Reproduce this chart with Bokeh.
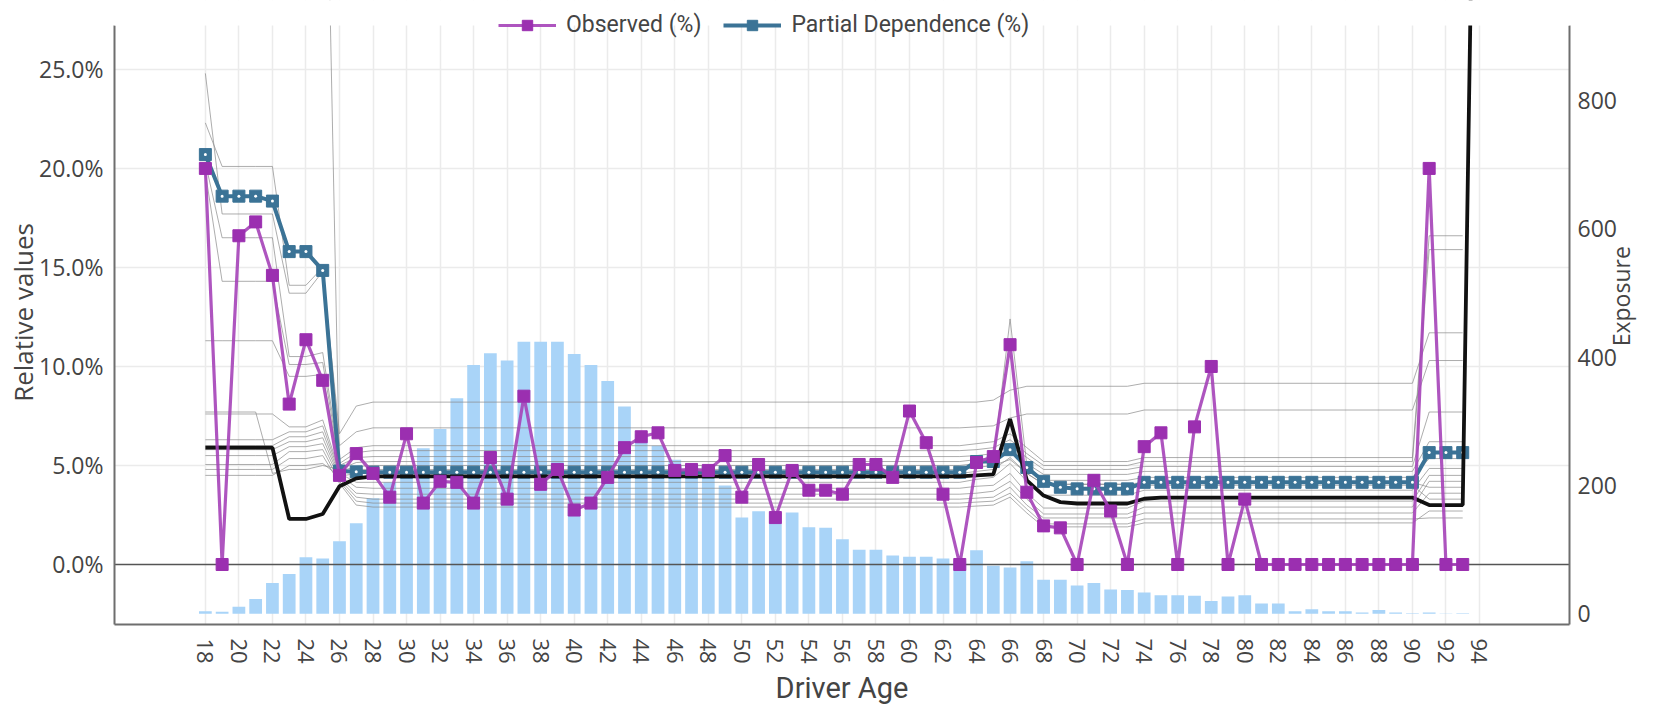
import math
from bokeh.plotting import figure
from bokeh.models import (Range1d, LinearAxis, FixedTicker, PrintfTickFormatter,
                          Legend, LegendItem, BoxAnnotation)
from bokeh.embed import file_html
from bokeh.resources import INLINE

# ---------------- data ----------------
ages = list(range(18, 94))
black_ages = list(range(18, 95))
x_ticks = list(range(18, 95, 2))
y_ticks = [0, 5, 10, 15, 20, 25]
grid_y_ticks = [5, 10, 15, 20, 25]
exposure_ticks = [0, 200, 400, 600, 800]

exposure = [4, 3, 11, 23, 48, 62, 88, 86, 113, 141,
            180, 205, 230, 258, 288, 336, 388, 406, 395, 424,
            424, 424, 405, 388, 363, 323, 280, 262, 240, 222,
            210, 200, 150, 160, 157, 158, 135, 134, 116, 100,
            100, 91, 89, 89, 86, 82, 99, 75, 72, 82,
            53, 53, 44, 48, 38, 37, 33, 29, 29, 28,
            20, 27, 29, 16, 16, 4, 7, 4, 4, 2,
            6, 2, 1, 2, 0.5, 1]

observed = [20.0, 0.0, 16.6, 17.3, 14.6, 8.1, 11.35, 9.3, 4.5, 5.6,
            4.6, 3.4, 6.6, 3.1, 4.2, 4.15, 3.1, 5.4, 3.3, 8.5,
            4.05, 4.8, 2.75, 3.1, 4.4, 5.9, 6.45, 6.65, 4.75, 4.8,
            4.75, 5.5, 3.4, 5.05, 2.37, 4.75, 3.75, 3.75, 3.55, 5.05,
            5.05, 4.4, 7.75, 6.15, 3.55, 0.0, 5.15, 5.45, 11.1, 3.65,
            1.95, 1.85, 0.0, 4.25, 2.7, 0.0, 5.95, 6.65, 0.0, 6.95,
            10.0, 0.0, 3.3, 0.0, 0.0, 0.0, 0.0, 0.0, 0.0, 0.0,
            0.0, 0.0, 0.0, 20.0, 0.0, 0.0]

partial_dependence = [20.7, 18.6, 18.6, 18.6, 18.35, 15.8, 15.8, 14.85, 4.72, 4.68,
                      4.66, 4.66, 4.66, 4.66, 4.66, 4.66, 4.66, 4.66, 4.66, 4.66,
                      4.66, 4.66, 4.66, 4.66, 4.66, 4.66, 4.66, 4.66, 4.66, 4.66,
                      4.66, 4.66, 4.66, 4.66, 4.66, 4.66, 4.66, 4.66, 4.66, 4.66,
                      4.66, 4.66, 4.66, 4.66, 4.66, 4.66, 5.2, 5.2, 5.8, 4.9,
                      4.2, 3.9, 3.82, 3.82, 3.82, 3.82, 4.15, 4.15, 4.15, 4.15,
                      4.15, 4.15, 4.15, 4.15, 4.15, 4.15, 4.15, 4.15, 4.15, 4.15,
                      4.15, 4.15, 4.15, 5.65, 5.65, 5.65]

black_line = [5.9, 5.9, 5.9, 5.9, 5.9, 2.3, 2.3, 2.55, 3.95, 4.35,
              4.45, 4.45, 4.45, 4.45, 4.45, 4.45, 4.45, 4.45, 4.45, 4.45,
              4.45, 4.45, 4.45, 4.45, 4.45, 4.45, 4.45, 4.45, 4.45, 4.45,
              4.45, 4.45, 4.45, 4.45, 4.45, 4.45, 4.45, 4.45, 4.45, 4.45,
              4.45, 4.45, 4.45, 4.45, 4.45, 4.45, 4.5, 4.55, 7.35, 4.25,
              3.48, 3.15, 3.08, 3.08, 3.08, 3.08, 3.32, 3.38, 3.38, 3.38,
              3.38, 3.38, 3.38, 3.38, 3.38, 3.38, 3.38, 3.38, 3.38, 3.38,
              3.38, 3.38, 3.38, 3.0, 3.0, 3.0, 57.0]

# individual (ICE) curves, read at the ages where they change
ice_ages = [18, 19, 21, 22, 23, 24, 25, 26, 27, 28, 63, 64, 65, 66, 67, 68, 73, 74, 90, 91, 93]
ice_00 = [46.5, 46.5, 46.5, 46.5, 46.5, 46.5, 46.5, 4.7, 4.8, 4.8, 4.8, 4.9, 5.0, 5.3, 4.6, 4.05, 4.05, 4.15, 4.15, 3.9, 3.9]
ice_01 = [24.8, 17.7, 17.7, 17.7, 13.7, 13.7, 14.8, 6.6, 8.0, 8.2, 8.2, 8.2, 8.3, 8.8, 9.0, 9.0, 9.0, 9.15, 9.15, 11.7, 11.7]
ice_02 = [22.3, 20.1, 20.1, 20.1, 14.1, 14.1, 15.0, 6.0, 6.7, 6.9, 6.9, 6.95, 7.0, 7.4, 7.6, 7.6, 7.6, 7.8, 7.8, 10.3, 10.3]
ice_03 = [20.3, 16.5, 16.5, 16.5, 10.5, 10.5, 10.7, 5.3, 5.9, 6.0, 6.0, 6.1, 6.2, 6.6, 5.9, 5.2, 5.2, 5.4, 5.4, 16.6, 16.6]
ice_04 = [19.8, 14.3, 14.3, 14.3, 10.1, 10.1, 10.2, 5.1, 5.65, 5.75, 5.75, 5.8, 5.9, 6.3, 5.6, 5.0, 5.0, 5.2, 5.2, 15.9, 15.9]
ice_05 = [11.3, 11.3, 11.3, 11.3, 9.5, 9.5, 9.6, 5.0, 5.4, 5.45, 5.45, 5.5, 5.6, 6.0, 5.4, 4.8, 4.8, 4.95, 4.95, 7.7, 7.7]
ice_06 = [7.7, 7.7, 7.7, 4.6, 4.8, 4.8, 5.0, 4.8, 5.15, 5.2, 5.2, 5.3, 5.4, 5.8, 5.1, 4.55, 4.55, 4.7, 4.7, 6.2, 6.2]
ice_07 = [7.6, 7.6, 7.6, 7.6, 6.95, 6.95, 7.3, 4.7, 4.95, 5.0, 5.0, 5.1, 5.2, 12.4, 5.0, 4.25, 4.25, 4.4, 4.4, 5.35, 5.35]
ice_08 = [6.3, 6.3, 6.3, 6.3, 6.7, 6.7, 7.0, 4.6, 4.15, 4.15, 4.15, 4.3, 4.4, 5.1, 4.2, 3.5, 3.5, 3.75, 3.75, 4.85, 4.85]
ice_09 = [6.0, 6.0, 6.0, 6.0, 6.45, 6.45, 6.7, 4.5, 3.9, 3.85, 3.85, 3.95, 4.0, 4.6, 3.6, 2.85, 2.85, 3.2, 3.2, 4.5, 4.5]
ice_10 = [5.8, 5.8, 5.8, 5.8, 6.2, 6.2, 6.4, 4.4, 3.6, 3.55, 3.55, 3.6, 3.7, 4.2, 3.3, 2.55, 2.55, 2.9, 2.9, 4.2, 4.2]
ice_11 = [5.5, 5.5, 5.5, 5.5, 5.95, 5.95, 6.1, 4.3, 3.4, 3.3, 3.3, 3.35, 3.4, 3.9, 3.0, 2.35, 2.35, 2.6, 2.6, 3.6, 3.6]
ice_12 = [5.05, 5.05, 5.05, 5.05, 5.7, 5.7, 5.8, 4.2, 3.2, 3.1, 3.1, 3.15, 3.2, 3.6, 2.8, 2.05, 2.05, 2.3, 2.3, 2.35, 2.35]
ice_13 = [4.8, 4.8, 4.8, 4.8, 5.35, 5.35, 5.5, 4.1, 3.0, 2.9, 2.9, 2.95, 3.0, 3.4, 2.6, 1.9, 1.9, 2.1, 2.1, 2.7, 2.7]
ice_14 = [4.5, 4.5, 4.5, 4.5, 5.0, 5.0, 5.1, 4.45, 4.6, 4.6, 4.6, 4.7, 4.8, 5.4, 4.6, 4.05, 4.05, 4.0, 4.0, 3.3, 3.3]
ice_curves = [ice_00, ice_01, ice_02, ice_03, ice_04, ice_05, ice_06, ice_07,
              ice_08, ice_09, ice_10, ice_11, ice_12, ice_13, ice_14]

# ---------------- styles / layout constants ----------------
PURPLE_LINE = "#a543b8"
PURPLE_MARK = "#9b2fb0"
BLUE = "#3b7396"
BAR = "#a9d4f8"
TXT = "#444444"
AXIS = "#6e6e6e"
Y_START, Y_END = -3.03, 28.48
PLOT_TOP_VALUE = 27.22          # top of the drawing area in the reference
EXP_START, EXP_END = -16.7, 956
EXP_PLOT_TOP = 917
EXP_TITLE_AT = 417              # where the right-hand title starts (exposure scale)

p = figure(width=1656, height=707,
           x_range=Range1d(12.58, 99.37), y_range=Range1d(Y_START, Y_END),
           output_backend="svg", toolbar_location=None,
           min_border_left=114, min_border_right=84,
           min_border_top=0, min_border_bottom=83)
p.outline_line_color = None
p.background_fill_color = "white"
p.border_fill_color = "white"
p.extra_y_ranges = {"exp": Range1d(EXP_START, EXP_END)}

# x axis
xa = p.xaxis[0]
xa.ticker = FixedTicker(ticks=x_ticks)
xa.major_label_orientation = -math.pi / 2
xa.major_tick_line_color = None
xa.minor_tick_line_color = None
xa.axis_line_color = AXIS
xa.axis_line_width = 2
xa.major_label_text_font = "Open Sans"
xa.major_label_text_font_size = "22px"
xa.major_label_text_color = TXT
xa.major_label_standoff = 8
xa.axis_label = "Driver Age"
xa.axis_label_text_font = "Roboto"
xa.axis_label_text_font_size = "29px"
xa.axis_label_text_font_style = "normal"
xa.axis_label_text_color = TXT
xa.axis_label_standoff = 4

# left axis
ya = p.yaxis[0]
ya.ticker = FixedTicker(ticks=y_ticks)
ya.bounds = (Y_START, PLOT_TOP_VALUE)
ya.formatter = PrintfTickFormatter(format="%.1f%%")
ya.major_tick_line_color = None
ya.minor_tick_line_color = None
ya.axis_line_color = AXIS
ya.axis_line_width = 2
ya.major_label_text_font = "Open Sans"
ya.major_label_text_font_size = "23px"
ya.major_label_text_color = TXT
ya.major_label_standoff = 5
ya.axis_label = "Relative values"
ya.axis_label_text_font = "Open Sans"
ya.axis_label_text_font_size = "26px"
ya.axis_label_text_font_style = "normal"
ya.axis_label_text_color = TXT
ya.axis_label_standoff = -5

# right axis (exposure)
ra = LinearAxis(y_range_name="exp", ticker=FixedTicker(ticks=exposure_ticks),
                bounds=(EXP_START, EXP_PLOT_TOP))
ra.major_tick_line_color = None
ra.minor_tick_line_color = None
ra.axis_line_color = AXIS
ra.axis_line_width = 2
ra.major_label_text_font = "Open Sans"
ra.major_label_text_font_size = "23px"
ra.major_label_text_color = TXT
ra.major_label_standoff = 2
p.add_layout(ra, "right")

# right-hand title, written bottom-to-top like the reference
rt = LinearAxis(y_range_name="exp", ticker=FixedTicker(ticks=[EXP_TITLE_AT]),
                major_label_overrides={EXP_TITLE_AT: "Exposure"})
rt.major_label_orientation = math.pi / 2
rt.axis_line_color = None
rt.major_tick_line_color = None
rt.minor_tick_line_color = None
rt.major_label_text_font = "Open Sans"
rt.major_label_text_font_size = "23px"
rt.major_label_text_color = TXT
rt.major_label_standoff = -4
p.add_layout(rt, "right")

# grids
p.xgrid.ticker = FixedTicker(ticks=x_ticks)
p.xgrid.grid_line_color = "#ebebeb"
p.xgrid.grid_line_width = 1.5
p.ygrid.ticker = FixedTicker(ticks=grid_y_ticks)
p.ygrid.grid_line_color = "#ebebeb"
p.ygrid.grid_line_width = 1.5

# exposure bars
p.vbar(x=ages, top=exposure, bottom=0, width=0.76, y_range_name="exp",
       fill_color=BAR, line_color=None)

# zero line
p.hspan(y=[0], line_color="#555555", line_width=1.5)

# ICE curves
p.multi_line(xs=[ice_ages for _ in ice_curves], ys=ice_curves,
             line_color="#8a8a8a", line_width=1, line_alpha=0.7)

# partial dependence
pd_line = p.line(ages, partial_dependence, line_color=BLUE, line_width=4)
pd_sq = p.scatter(ages, partial_dependence, marker="square", size=12,
                  fill_color=BLUE, line_color=BLUE)
p.scatter(ages, partial_dependence, marker="circle", size=3,
          fill_color="white", line_color=None)

# black reference curve
p.line(black_ages, black_line, line_color="#111111", line_width=3.8)

# observed
obs_line = p.line(ages, observed, line_color=PURPLE_LINE, line_width=3.2, line_alpha=0.9)
obs_sq = p.scatter(ages, observed, marker="square", size=12,
                   fill_color=PURPLE_MARK, line_color=PURPLE_MARK)

# blank strip above the drawing area (the legend sits in it)
p.add_layout(BoxAnnotation(bottom=PLOT_TOP_VALUE, top=Y_END + 20, left=-80, right=3000,
                           left_units="screen", right_units="screen",
                           fill_color="white", fill_alpha=1.0, line_alpha=0))

legend = Legend(items=[LegendItem(label="Observed (%)", renderers=[obs_line, obs_sq]),
                       LegendItem(label="Partial Dependence (%)", renderers=[pd_line, pd_sq])],
                orientation="horizontal", location=(384, 586),
                label_text_font="Roboto", label_text_font_size="23px",
                label_text_color=TXT, glyph_width=58, glyph_height=26,
                label_standoff=10, spacing=22, padding=0, margin=0,
                background_fill_alpha=0, border_line_alpha=0)
p.add_layout(legend)

open("out.html", "w").write(file_html(p, INLINE))
